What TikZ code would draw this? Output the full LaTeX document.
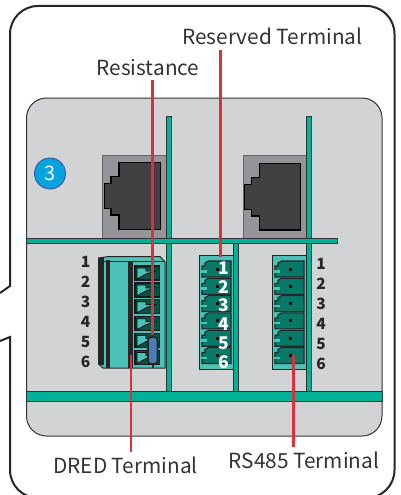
\documentclass[tikz,border=0pt]{standalone}
\usepackage{fontspec}
\setmainfont{Noto Sans CJK SC}
\usetikzlibrary{arrows.meta}
\definecolor{panelgray}{HTML}{D1D3D4}
\definecolor{busgreen}{HTML}{00B398}
\definecolor{bodyteal}{HTML}{4CC1B7}
\definecolor{pindark}{HTML}{067A66}
\definecolor{leadred}{HTML}{D9323A}
\definecolor{jackgray}{HTML}{939598}
\definecolor{jackdark}{HTML}{414042}
\definecolor{badgeblue}{HTML}{00A5DF}
\definecolor{resblue}{HTML}{4A7DB5}
\tikzset{
  bus/.style={fill=busgreen,draw=black!80,line width=1pt},
  leader/.style={draw=leadred,line width=2.6pt},
  tlabel/.style={font=\fontsize{20.8}{22}\selectfont,text=black!80,inner sep=0pt},
  pinno/.style={font=\fontsize{15.5}{17}\selectfont\bfseries,text=black!85,inner sep=0pt},
  pinnow/.style={font=\fontsize{17.5}{19}\selectfont\bfseries,text=white,inner sep=0pt},
}
\begin{document}
\begin{tikzpicture}[x=1pt,y=-1pt]
\useasboundingbox (0,0) rectangle (401,495);
\begin{scope}
\clip (0,0) rectangle (401,495);
% outer frame
\draw[line width=2pt,black!85] (0,293) -- (10,286) -- (10,200);
\draw[line width=2pt,black!85,rounded corners=28pt] (10,200) -- (10,6) -- (394.5,6) -- (394.5,498) -- (10,498) -- (10,400);
\draw[line width=2pt,black!85] (10,400) -- (10,337) -- (0,341);
\end{scope}
% panel
\draw[fill=panelgray,draw=black!80,line width=1pt,rounded corners=20pt] (26.5,98) rectangle (382,436);
% rj45 jacks
\fill[jackgray,draw=black!60,line width=0.7pt] (102.7,155) rectangle (166.5,238.5);
\fill[jackgray,draw=black!60,line width=0.7pt] (243.3,155.5) rectangle (306.5,238.5);
\draw[fill=jackdark,draw=black,line width=1.1pt] (119,162.7) -- (160.7,162.7) -- (160.7,229.3) -- (119,229.3) -- (119,215) -- (111,215) -- (111,208.3) -- (104.3,208.3) -- (104.3,183.3) -- (111,183.3) -- (111,176.7) -- (119,176.7) -- cycle;
\draw[fill=jackdark,draw=black,line width=1.1pt] (259.5,163.3) -- (300.7,163.3) -- (300.7,230) -- (259.5,230) -- (259.5,216) -- (251.7,216) -- (251.7,209.3) -- (244.3,209.3) -- (244.3,184.3) -- (251.7,184.3) -- (251.7,177.7) -- (259.5,177.7) -- cycle;
% green bars
\draw[bus] (166.7,116.5) rectangle (171.7,391.7);
\draw[bus] (306.7,116.5) rectangle (311.7,391.7);
\draw[bus] (233.3,243) rectangle (238.5,391.7);
\draw[bus] (26.5,238.5) rectangle (337,243.3);
\draw[bus] (26.5,391.7) rectangle (382,401);
% badge
\node[circle,fill=badgeblue,draw=blue!50!black!70,line width=0.9pt,minimum size=31pt,inner sep=0pt,text=white,font=\fontsize{20}{22}\selectfont] (badge) at (50,173.5) {3};
% dred connector
\fill[bodyteal,draw=black!85,line width=1pt] (98.5,258) -- (109,256.5) -- (160,256.5) -- (165,262) -- (165,368) -- (103,368) -- (98.5,364) -- cycle;
\fill[black!85] (98.5,258) rectangle (104,365);
\fill[black!85] (106,260) rectangle (109.5,368);
\fill[black!85] (128.3,261) rectangle (133.3,368);
\draw[black!85,line width=1pt] (100,261) -- (165,261);
\foreach \i in {0,...,5} {
  \draw[fill=pindark!70!black,draw=black!90,line width=1.2pt] (135,266+16.9*\i) rectangle (159.3,280+16.9*\i);
  \fill[bodyteal,draw=black,line width=0.7pt] (137,268+16.9*\i) -- (146,268+16.9*\i) -- (146,271+16.9*\i) -- (155,271+16.9*\i) -- (146,274+16.9*\i) -- (137,279+16.9*\i) -- cycle;
}
% resistor
\draw[black!85,line width=2pt] (152.5,335) -- (152.5,368);
\draw[fill=resblue,draw=black!85,line width=1.6pt,rounded corners=3.5pt] (148,337) rectangle (157.5,364);
% terminal blocks
\foreach \xa/\xm in {199/0,272/1} {
  \draw[fill=bodyteal,draw=black!85,line width=1pt] (\xa,255.7) rectangle ++(34.3,113.6);
  \foreach \i in {0,...,5} {
    \draw[fill=pindark,draw=black!85,line width=1.1pt] (\xa+9.5,261+17.3*\i) -- (\xa+32,261+17.3*\i) -- (\xa+32,277+17.3*\i) -- (\xa+3,277+17.3*\i) -- (\xa+3,266+17.3*\i) -- (\xa+6,266+17.3*\i) -- (\xa+6,263+17.3*\i) -- cycle;
    \fill[bodyteal] (\xa+1.5,270+17.3*\i) rectangle ++(6,2.5);
    \fill[black] (\xa+17,267.5+17.3*\i) rectangle ++(3,3);
  }
}
% pin numbers
\foreach \i in {1,...,6} {
  \node[pinno] (leftNo\i) at (85.7,241.7+20*\i) {\i};
  \node[pinno] (rightNo\i) at (321,244+20*\i) {\i};
  \node[pinnow] (midNo\i) at (223.5,249+18.8*\i) {\i};
}
% labels
\node[tlabel] (labelReserved) at (272.5,36) {Reserved Terminal};
\node[tlabel] (labelResistance) at (148,68) {Resistance};
\node[tlabel] (labelDred) at (125.5,465) {DRED Terminal};
\node[tlabel] (labelRs) at (304,460) {RS485 Terminal};
% leader lines
\coordinate (endReserved) at (220.3,257);
\coordinate (endResistance) at (152.3,335);
\coordinate (endDred) at (131,355);
\coordinate (endRs) at (293.5,355);
\draw[leader] (endReserved |- 0,50) -- (endReserved);
\draw[leader] (endResistance |- 0,80) -- (endResistance);
\draw[leader] (endDred |- 0,452) -- (endDred);
\draw[leader] (endRs |- 0,447) -- (endRs);
\end{tikzpicture}
\end{document}
